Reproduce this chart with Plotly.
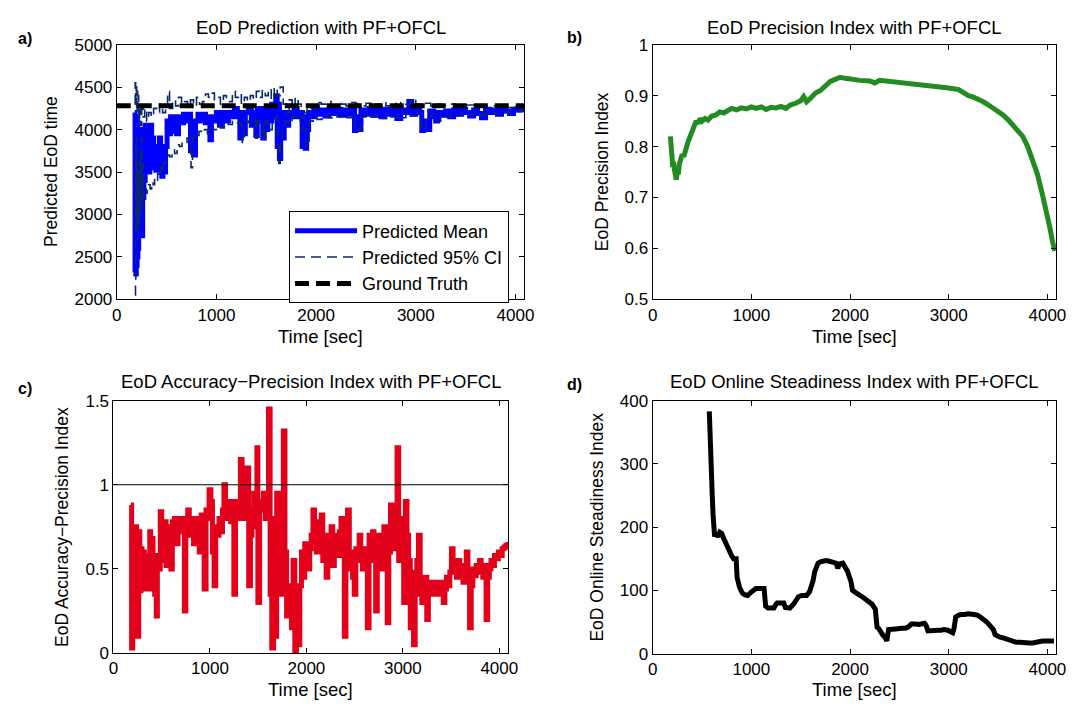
import plotly.graph_objects as go

# ---------------- data ----------------
# Panel a: predicted mean
mean_t = [180, 184, 188, 192, 196, 200, 204, 208, 212, 216,
          220, 225, 230, 235, 240, 245, 250, 255, 260, 266,
          272, 278, 285, 292, 300, 308, 316, 324, 332, 340,
          350, 360, 370, 380, 392, 404, 416, 428, 440, 452,
          464, 476, 490, 505, 520, 540, 560, 580, 600, 620,
          645, 670, 695, 720, 740, 755, 770, 790, 815, 840,
          865, 890, 915, 935, 950, 970, 1000, 1030, 1060, 1090,
          1120, 1150, 1180, 1210, 1235, 1250, 1265, 1290, 1320, 1350,
          1375, 1395, 1410, 1425, 1445, 1465, 1480, 1495, 1515, 1535,
          1555, 1575, 1595, 1610, 1620, 1632, 1645, 1660, 1680, 1700,
          1725, 1750, 1780, 1810, 1840, 1860, 1875, 1890, 1905, 1925,
          1950, 1980, 2010, 2050, 2090, 2130, 2170, 2210, 2250, 2290,
          2330, 2370, 2385, 2400, 2420, 2450, 2490, 2530, 2570, 2610,
          2650, 2690, 2730, 2770, 2810, 2850, 2890, 2930, 2960, 3000,
          3040, 3060, 3080, 3100, 3140, 3180, 3200, 3220, 3260, 3300,
          3340, 3380, 3420, 3460, 3500, 3540, 3580, 3620, 3660, 3700,
          3740, 3780, 3820, 3860, 3900, 3940, 3980, 4020, 4060, 4090]
mean_v = [4200, 2350, 4150, 2300, 3900, 2400, 4100, 2500, 3800, 2600,
          3700, 2900, 4000, 3100, 3900, 3300, 3700, 2750, 3600, 3200,
          3900, 3400, 4050, 3500, 3950, 3550, 3900, 3500, 3700, 4050,
          3600, 3900, 3550, 3800, 3520, 3750, 3550, 3900, 3600, 3450,
          3700, 3500, 3800, 4100, 3950, 4150, 3980, 4150, 3950, 4150,
          4080, 4180, 4100, 4180, 3750, 4050, 3700, 4100, 4180, 4100,
          4180, 4080, 4150, 3880, 4150, 4100, 4200, 4050, 4200, 4100,
          4200, 4150, 4250, 4150, 3900, 4200, 3950, 4200, 4250, 4050,
          4200, 3930, 4250, 4100, 4250, 3900, 4250, 4000, 4250, 4100,
          4300, 4150, 4400, 3800, 4300, 3660, 4100, 3900, 4200, 4050,
          4200, 4150, 4250, 4150, 4200, 3800, 4150, 3780, 4000, 4200,
          4150, 4250, 4180, 4230, 4160, 4250, 4190, 4240, 4170, 4230,
          4180, 4250, 3990, 4150, 4000, 4230, 4180, 4250, 4170, 4230,
          4150, 4240, 4180, 4250, 4130, 4230, 4200, 4330, 4180, 4250,
          4200, 3990, 4100, 4000, 4220, 4150, 4100, 4200, 4170, 4220,
          4150, 4230, 4180, 4240, 4200, 4160, 4230, 4190, 4140, 4240,
          4200, 4230, 4180, 4250, 4220, 4190, 4240, 4230, 4260, 4250]

# Panel a: upper 95% CI
ci_up_t = [180, 185, 190, 195, 200, 205, 210, 215, 220, 230,
           240, 250, 265, 280, 300, 320, 345, 370, 400, 430,
           460, 490, 510, 530, 560, 590, 620, 650, 680, 710,
           740, 770, 800, 830, 860, 890, 920, 950, 980, 1010,
           1040, 1070, 1100, 1130, 1160, 1190, 1220, 1250, 1280, 1310,
           1340, 1370, 1400, 1430, 1460, 1490, 1520, 1550, 1580, 1610,
           1640, 1670, 1700, 1730, 1760, 1790, 1820, 1850, 1880, 1910,
           1950, 2000, 2050, 2100, 2150, 2200, 2250, 2300, 2350, 2400,
           2450, 2500, 2550, 2600, 2650, 2700, 2750, 2800, 2850, 2900,
           2950, 3000, 3050, 3100, 3150, 3200, 3250, 3300, 3400, 3500,
           3600, 3700, 3800, 3900, 4000, 4090]
ci_up_v = [4300, 4550, 4350, 4500, 4200, 4450, 4250, 4400, 4100, 4300,
           4050, 4250, 4150, 4250, 4100, 4200, 4150, 4250, 4200, 4300,
           4200, 4300, 4450, 4250, 4350, 4280, 4380, 4300, 4330, 4260,
           4350, 4280, 4380, 4300, 4330, 4420, 4380, 4430, 4350, 4380,
           4300, 4400, 4360, 4330, 4450, 4380, 4420, 4300, 4380, 4330,
           4400, 4350, 4450, 4380, 4470, 4400, 4480, 4350, 4500, 4400,
           4500, 4300, 4200, 4350, 4250, 4380, 4300, 4250, 4200, 4280,
           4250, 4320, 4300, 4330, 4290, 4310, 4300, 4280, 4320, 4300,
           4280, 4310, 4270, 4300, 4320, 4280, 4310, 4290, 4320, 4300,
           4360, 4300, 4290, 4310, 4280, 4300, 4290, 4300, 4280, 4290,
           4270, 4280, 4270, 4260, 4270, 4270]

# Panel a: lower 95% CI
ci_lo_t = [185, 188, 191, 194, 197, 200, 205, 210, 215, 220,
           228, 236, 244, 252, 260, 268, 276, 285, 295, 305,
           320, 335, 350, 365, 380, 395, 410, 425, 440, 455,
           470, 490, 510, 530, 555, 580, 605, 630, 655, 680,
           705, 730, 745, 760, 775, 800, 825, 850, 880, 910,
           940, 970, 1000, 1040, 1080, 1120, 1160, 1200, 1240, 1260,
           1280, 1320, 1360, 1395, 1410, 1440, 1470, 1490, 1520, 1560,
           1590, 1612, 1625, 1640, 1660, 1690, 1720, 1760, 1800, 1840,
           1870, 1895, 1930, 1970, 2010, 2060, 2110, 2160, 2210, 2260,
           2310, 2360, 2390, 2415, 2450, 2500, 2550, 2600, 2650, 2700,
           2750, 2800, 2850, 2900, 2950, 3000, 3050, 3070, 3100, 3150,
           3200, 3250, 3300, 3350, 3400, 3450, 3500, 3550, 3600, 3650,
           3700, 3750, 3800, 3850, 3900, 3950, 4000, 4050, 4090]
ci_lo_v = [2050, 2200, 3800, 2800, 3900, 2900, 3600, 2750, 3500, 2900,
           3700, 3000, 3900, 3100, 3600, 3200, 3250, 3300, 3250, 3300,
           3350, 3300, 3380, 3350, 3430, 3400, 3480, 3450, 3550, 3500,
           3600, 3650, 3700, 3680, 3760, 3720, 3820, 3800, 3860, 3850,
           3900, 3880, 3550, 3900, 3950, 3930, 3980, 3960, 4000, 3950,
           4020, 4000, 4050, 4020, 4080, 4060, 4100, 4080, 4050, 3850,
           4100, 4080, 4120, 3900, 4100, 4050, 3880, 4100, 4000, 4120,
           4150, 3800, 3600, 3900, 4050, 4100, 4080, 4150, 4100, 4150,
           4000, 3800, 4100, 4150, 4120, 4170, 4140, 4180, 4150, 4170,
           4140, 4180, 3990, 4000, 4150, 4180, 4150, 4170, 4130, 4180,
           4150, 4170, 4140, 4190, 4160, 4180, 4000, 4020, 4150, 4180,
           4100, 4170, 4150, 4180, 4160, 4190, 4170, 4180, 4200, 4170,
           4190, 4200, 4180, 4210, 4200, 4220, 4210, 4230, 4230]

ground_truth = 4280
t_end = 4090

# Panel b: precision index
prec_t = [180, 188, 196, 204, 212, 220, 230, 240, 250, 260,
          270, 285, 300, 315, 330, 345, 360, 380, 400, 420,
          440, 460, 480, 500, 530, 560, 600, 640, 680, 720,
          760, 800, 850, 900, 950, 1000, 1050, 1100, 1150, 1200,
          1250, 1300, 1350, 1400, 1450, 1500, 1530, 1560, 1600, 1650,
          1700, 1750, 1800, 1850, 1900, 1950, 2000, 2100, 2200, 2250,
          2300, 2400, 2500, 2600, 2700, 2800, 2900, 3000, 3100, 3150,
          3200, 3250, 3300, 3350, 3400, 3450, 3500, 3550, 3600, 3650,
          3700, 3750, 3800, 3850, 3900, 3950, 3990, 4020, 4050, 4075]
prec_v = [0.82, 0.80, 0.79, 0.76, 0.77, 0.755, 0.74, 0.735, 0.75, 0.745,
          0.765, 0.775, 0.785, 0.78, 0.795, 0.80, 0.81, 0.82, 0.83, 0.84,
          0.85, 0.845, 0.855, 0.85, 0.855, 0.852, 0.86, 0.862, 0.868, 0.866,
          0.872, 0.875, 0.872, 0.876, 0.874, 0.878, 0.875, 0.878, 0.873, 0.877,
          0.876, 0.879, 0.875, 0.882, 0.885, 0.89, 0.898, 0.888, 0.895, 0.905,
          0.91, 0.918, 0.928, 0.932, 0.936, 0.934, 0.932, 0.930, 0.929, 0.925,
          0.93, 0.928, 0.927, 0.925, 0.922, 0.92, 0.917, 0.915, 0.912, 0.905,
          0.90, 0.897, 0.893, 0.888, 0.882, 0.876, 0.868, 0.862, 0.853, 0.843,
          0.833, 0.82, 0.80, 0.775, 0.745, 0.705, 0.675, 0.645, 0.615, 0.595]

# Panel c: accuracy-precision index
ap_t = [180, 188, 200, 222, 240, 256, 262, 273, 285, 295,
        307, 320, 335, 350, 365, 376, 385, 395, 410, 427,
        444, 455, 470, 485, 500, 515, 530, 545, 560, 581,
        595, 610, 632, 650, 670, 690, 718, 735, 750, 770,
        786, 810, 830, 855, 875, 889, 910, 925, 940, 960,
        975, 991, 1010, 1026, 1043, 1060, 1075, 1094, 1110, 1130,
        1145, 1162, 1180, 1197, 1215, 1230, 1248, 1265, 1280, 1300,
        1316, 1333, 1350, 1368, 1385, 1402, 1420, 1436, 1455, 1470,
        1487, 1497, 1515, 1538, 1555, 1573, 1590, 1607, 1624, 1641,
        1660, 1675, 1692, 1709, 1726, 1745, 1761, 1778, 1795, 1815,
        1830, 1846, 1862, 1880, 1897, 1915, 1932, 1949, 1966, 1983,
        2000, 2017, 2035, 2050, 2068, 2085, 2103, 2120, 2137, 2154,
        2170, 2188, 2205, 2222, 2239, 2256, 2273, 2290, 2308, 2325,
        2342, 2359, 2376, 2393, 2410, 2427, 2445, 2462, 2479, 2496,
        2513, 2530, 2547, 2564, 2581, 2598, 2615, 2632, 2650, 2668,
        2685, 2701, 2718, 2735, 2752, 2769, 2786, 2803, 2820, 2838,
        2855, 2872, 2889, 2906, 2923, 2940, 2957, 2974, 2991, 3009,
        3026, 3043, 3060, 3077, 3094, 3111, 3128, 3145, 3162, 3180,
        3197, 3215, 3231, 3248, 3265, 3282, 3300, 3316, 3333, 3350,
        3368, 3385, 3402, 3419, 3436, 3453, 3470, 3487, 3504, 3521,
        3538, 3556, 3573, 3590, 3607, 3624, 3641, 3658, 3675, 3692,
        3709, 3726, 3743, 3760, 3777, 3795, 3812, 3829, 3846, 3863,
        3880, 3897, 3914, 3932, 3950, 3970, 3990, 4010, 4030, 4050,
        4070, 4090]
ap_v = [0.88, 0.03, 0.10, 0.75, 0.70, 0.10, 0.72, 0.37, 0.62, 0.45,
        0.60, 0.38, 0.58, 0.50, 0.42, 0.72, 0.38, 0.68, 0.45, 0.35,
        0.22, 0.58, 0.50, 0.84, 0.55, 0.72, 0.78, 0.52, 0.63, 0.75,
        0.50, 0.78, 0.80, 0.65, 0.80, 0.72, 0.80, 0.25, 0.70, 0.85,
        0.70, 0.80, 0.65, 0.80, 0.70, 0.60, 0.82, 0.75, 0.38, 0.85,
        0.80, 0.97, 0.90, 0.60, 0.40, 0.75, 0.70, 0.80, 0.72, 0.85,
        1.00, 0.80, 0.88, 0.90, 0.78, 0.88, 0.35, 0.90, 0.80, 0.85,
        1.15, 0.80, 0.95, 1.05, 1.10, 0.40, 0.70, 0.85, 0.95, 0.75,
        1.22, 0.30, 0.90, 0.85, 0.95, 0.80, 0.92, 1.45, 0.35, 0.03,
        0.80, 0.10, 0.95, 0.70, 0.35, 0.55, 1.32, 0.60, 0.22, 0.40,
        0.25, 0.15, 0.55, 0.00, 0.20, 0.05, 0.40, 0.60, 0.45, 0.65,
        0.55, 0.50, 0.62, 0.70, 0.85, 0.65, 0.60, 0.78, 0.62, 0.82,
        0.55, 0.70, 0.45, 0.65, 0.60, 0.75, 0.52, 0.70, 0.62, 0.58,
        0.72, 0.80, 0.60, 0.10, 0.55, 0.85, 0.50, 0.60, 0.45, 0.35,
        0.62, 0.55, 0.70, 0.58, 0.50, 0.62, 0.55, 0.15, 0.70, 0.60,
        0.72, 0.55, 0.25, 0.62, 0.70, 0.60, 0.50, 0.75, 0.62, 0.18,
        0.60, 0.88, 0.65, 0.70, 0.62, 1.22, 0.55, 0.80, 0.65, 0.30,
        0.90, 0.70, 0.55, 0.15, 0.48, 0.05, 0.35, 0.55, 0.70, 0.45,
        0.30, 0.38, 0.45, 0.20, 0.35, 0.42, 0.40, 0.35, 0.42, 0.38,
        0.40, 0.35, 0.42, 0.30, 0.38, 0.45, 0.40, 0.48, 0.62, 0.50,
        0.52, 0.45, 0.55, 0.48, 0.50, 0.42, 0.52, 0.60, 0.48, 0.15,
        0.40, 0.50, 0.46, 0.52, 0.48, 0.55, 0.50, 0.45, 0.52, 0.20,
        0.45, 0.50, 0.55, 0.52, 0.58, 0.56, 0.60, 0.58, 0.62, 0.63,
        0.64, 0.66]
ap_threshold = 1.0

# Panel d: online steadiness index
st_t = [574, 580, 586, 592, 598, 604, 612, 620, 628, 640,
        660, 680, 700, 720, 740, 760, 780, 800, 820, 846,
        856, 868, 880, 895, 913, 935, 963, 996, 1020, 1046,
        1080, 1110, 1129, 1145, 1170, 1200, 1228, 1250, 1262, 1290,
        1328, 1345, 1361, 1390, 1427, 1450, 1477, 1510, 1560, 1590,
        1610, 1625, 1643, 1660, 1676, 1700, 1730, 1759, 1790, 1820,
        1859, 1876, 1895, 1926, 1950, 1975, 1992, 2008, 2025, 2060,
        2091, 2125, 2158, 2190, 2224, 2257, 2265, 2274, 2290, 2307,
        2330, 2357, 2373, 2390, 2420, 2460, 2523, 2560, 2589, 2622,
        2660, 2700, 2755, 2770, 2789, 2830, 2888, 2920, 2954, 2990,
        3021, 3040, 3054, 3065, 3071, 3090, 3120, 3160, 3200, 3253,
        3290, 3320, 3350, 3386, 3420, 3452, 3470, 3486, 3520, 3552,
        3585, 3618, 3650, 3685, 3720, 3760, 3817, 3850, 3884, 3917,
        3950, 4000, 4040, 4066]
st_v = [383, 340, 300, 300, 250, 250, 220, 185, 185, 190,
        185, 192, 190, 182, 175, 165, 158, 155, 150, 150,
        120, 110, 105, 100, 95, 93, 92, 97, 100, 103,
        103, 104, 103, 75, 72, 72, 72, 78, 80, 80,
        80, 73, 72, 72, 78, 85, 90, 92, 92, 98,
        105, 115, 130, 140, 143, 145, 146, 147, 146, 145,
        143, 135, 142, 143, 138, 130, 122, 115, 100, 95,
        93, 90, 85, 82, 78, 70, 55, 42, 40, 37,
        30, 25, 20, 38, 38, 39, 40, 40, 42, 47,
        47, 46, 48, 45, 36, 37, 37, 37, 38, 37,
        35, 33, 40, 50, 58, 60, 62, 62, 63, 62,
        61, 58, 55, 50, 44, 38, 30, 28, 26, 25,
        23, 20, 20, 18, 18, 17, 17, 17, 18, 20,
        20, 20, 21, 20]

x_ticks = [0, 1000, 2000, 3000, 4000]

# ---------------- figure ----------------
W, H = 1088, 713
FONT = "Liberation Sans, Arial, sans-serif"
TICK_SIZE = 17
TITLE_SIZE = 18.5
XLAB_SIZE = 18.5
YLAB_SIZE = 17.5
CI_COLOR = "#0C2A6A"


def px(x):
    return x / W


def py(y):
    return 1 - y / H


fig = go.Figure()

fig.add_trace(go.Scatter(x=mean_t, y=mean_v, mode="lines", line_shape="hv",
                         line=dict(color="#0000FF", width=5),
                         name="Predicted Mean", xaxis="x", yaxis="y"))
fig.add_trace(go.Scatter(x=ci_up_t, y=ci_up_v, mode="lines", line_shape="hv",
                         line=dict(color=CI_COLOR, width=1.6, dash="10px,6px"),
                         name="Predicted 95% CI", xaxis="x", yaxis="y"))
fig.add_trace(go.Scatter(x=ci_lo_t, y=ci_lo_v, mode="lines", line_shape="hv",
                         line=dict(color=CI_COLOR, width=1.6, dash="10px,6px"),
                         name="Predicted 95% CI", showlegend=False, xaxis="x", yaxis="y"))
fig.add_trace(go.Scatter(x=[0, t_end], y=[ground_truth, ground_truth], mode="lines",
                         line=dict(color="black", width=5, dash="14px,7px"),
                         name="Ground Truth", xaxis="x", yaxis="y"))

fig.add_trace(go.Scatter(x=prec_t, y=prec_v, mode="lines",
                         line=dict(color="#228B22", width=5),
                         showlegend=False, xaxis="x2", yaxis="y2"))

fig.add_trace(go.Scatter(x=ap_t, y=ap_v, mode="lines", line_shape="hv",
                         line=dict(color="#E2001A", width=5),
                         showlegend=False, xaxis="x3", yaxis="y3"))
fig.add_trace(go.Scatter(x=[0, t_end], y=[ap_threshold, ap_threshold], mode="lines",
                         line=dict(color="black", width=1.2),
                         showlegend=False, xaxis="x3", yaxis="y3"))

fig.add_trace(go.Scatter(x=st_t, y=st_v, mode="lines",
                         line=dict(color="black", width=5),
                         showlegend=False, xaxis="x4", yaxis="y4"))

axis_style = dict(showline=True, linecolor="black", linewidth=1, mirror="ticks",
                  ticks="inside", ticklen=5, tickcolor="black", showgrid=False,
                  zeroline=False, tickfont=dict(family=FONT, size=TICK_SIZE, color="black"))

# plot-area pixel boxes (left, right, top, bottom)
A = (113.3, 526.7, 36.7, 298.3)
B = (656.7, 1066.0, 36.7, 298.3)
C = (110.0, 510.0, 402.3, 661.7)
D = (656.7, 1066.0, 402.3, 662.3)


def dom_x(b):
    return [px(b[0]), px(b[1])]


def dom_y(b):
    return [py(b[3]), py(b[2])]


fig.update_layout(
    width=W, height=H,
    margin=dict(l=0, r=0, t=0, b=0),
    paper_bgcolor="white", plot_bgcolor="white",
    font=dict(family=FONT, color="black"),
    xaxis=dict(domain=dom_x(A), range=[0, t_end], tickvals=x_ticks, anchor="y", **axis_style),
    yaxis=dict(domain=dom_y(A), range=[2000, 5000], tickvals=[2000, 2500, 3000, 3500, 4000, 4500, 5000],
               anchor="x", **axis_style),
    xaxis2=dict(domain=dom_x(B), range=[0, t_end], tickvals=x_ticks, anchor="y2", **axis_style),
    yaxis2=dict(domain=dom_y(B), range=[0.5, 1.0], tickvals=[0.5, 0.6, 0.7, 0.8, 0.9, 1.0],
                ticktext=["0.5", "0.6", "0.7", "0.8", "0.9", "1"], anchor="x2", **axis_style),
    xaxis3=dict(domain=dom_x(C), range=[0, t_end], tickvals=x_ticks, anchor="y3", **axis_style),
    yaxis3=dict(domain=dom_y(C), range=[0, 1.5], tickvals=[0, 0.5, 1.0, 1.5],
                ticktext=["0", "0.5", "1", "1.5"], anchor="x3", **axis_style),
    xaxis4=dict(domain=dom_x(D), range=[0, t_end], tickvals=x_ticks, anchor="y4", **axis_style),
    yaxis4=dict(domain=dom_y(D), range=[0, 400], tickvals=[0, 100, 200, 300, 400],
                anchor="x4", **axis_style),
    legend=dict(x=px(288), y=py(208), xanchor="left", yanchor="top",
                bgcolor="white", bordercolor="black", borderwidth=1,
                font=dict(family=FONT, size=18, color="black"),
                tracegroupgap=0, itemwidth=62),
)

ann = []


def text(x, y, s, size=15, angle=0, bold=False):
    ann.append(dict(x=px(x), y=py(y), xref="paper", yref="paper", text=("<b>%s</b>" % s) if bold else s,
                    showarrow=False, textangle=angle, xanchor="center", yanchor="middle",
                    font=dict(family=FONT, size=size, color="black")))


# subplot titles
text((A[0] + A[1]) / 2, 19, "EoD Prediction with PF+OFCL", TITLE_SIZE)
text((B[0] + B[1]) / 2, 19, "EoD Precision Index with PF+OFCL", TITLE_SIZE)
text((C[0] + C[1]) / 2, 383, "EoD Accuracy\u2212Precision Index with PF+OFCL", TITLE_SIZE)
text((D[0] + D[1]) / 2, 383, "EoD Online Steadiness Index with PF+OFCL", TITLE_SIZE)
# x titles
text((A[0] + A[1]) / 2, 336, "Time [sec]", XLAB_SIZE)
text((B[0] + B[1]) / 2, 336, "Time [sec]", XLAB_SIZE)
text((C[0] + C[1]) / 2, 699, "Time [sec]", XLAB_SIZE)
text((D[0] + D[1]) / 2, 699, "Time [sec]", XLAB_SIZE)
# y titles
text(46, 167, "Predicted EoD time", YLAB_SIZE, -90)
text(605, 167, "EoD Precision Index", YLAB_SIZE, -90)
text(58, 532, "EoD Accuracy\u2212Precision Index", YLAB_SIZE, -90)
text(600, 532, "EoD Online Steadiness Index", YLAB_SIZE, -90)
# panel labels
text(20, 30, "a)", 16, bold=True)
text(577, 29, "b)", 16, bold=True)
text(20, 390, "c)", 16, bold=True)
text(577, 386, "d)", 16, bold=True)

fig.update_layout(annotations=ann)

fig.write_html("out.html")
